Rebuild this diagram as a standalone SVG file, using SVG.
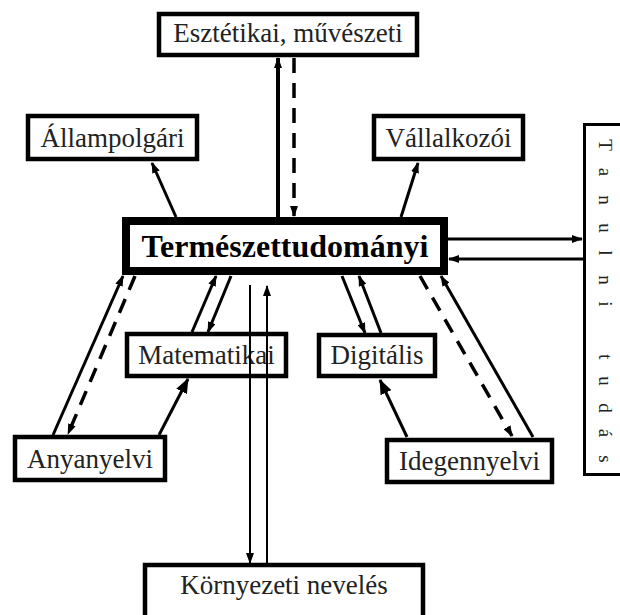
<svg xmlns="http://www.w3.org/2000/svg" width="620" height="615" viewBox="0 0 620 615">
<style>
.box{fill:#fff;stroke:#000;stroke-width:4.5}
.main{fill:#fff;stroke:#000;stroke-width:8}
.tb{fill:#fff;stroke:#000;stroke-width:3}
.t{font-family:"Liberation Serif","Times New Roman",serif;font-size:27px;fill:#222;text-anchor:middle}
.tm{font-family:"Liberation Serif","Times New Roman",serif;font-size:32px;font-weight:bold;fill:#000;text-anchor:middle}
.tv{font-family:"Liberation Serif","Times New Roman",serif;font-size:19px;fill:#222;text-anchor:middle}
.c{stroke:#000;stroke-width:3;fill:none;marker-end:url(#a)}
.cb{stroke:#000;stroke-width:3;fill:none;marker-end:url(#b)}
.cd{stroke:#000;stroke-width:3.5;fill:none;stroke-dasharray:15 10;marker-end:url(#a)}
.ct{stroke:#000;stroke-width:2;fill:none;marker-end:url(#a)}
</style>
<defs>
<marker id="a" viewBox="0 0 11 8" refX="10" refY="4" markerWidth="11" markerHeight="8" markerUnits="userSpaceOnUse" orient="auto"><path d="M0,0 L11,4 L0,8 z" fill="#000"/></marker>
<marker id="b" viewBox="0 0 15 12" refX="14" refY="6" markerWidth="15" markerHeight="12" markerUnits="userSpaceOnUse" orient="auto"><path d="M0,0 L15,6 L0,12 z" fill="#000"/></marker>
</defs>
<rect width="620" height="615" fill="#fff"/>
<g id="n-esztetikai"><rect class="box" x="159" y="14" width="258" height="41"/><text class="t" x="288" y="42">Esztétikai, művészeti</text></g>
<g id="n-allampolgari"><rect class="box" x="28" y="116" width="169" height="43"/><text class="t" x="112.5" y="147">Állampolgári</text></g>
<g id="n-vallalkozoi"><rect class="box" x="374" y="116" width="149" height="43"/><text class="t" x="448.5" y="147">Vállalkozói</text></g>
<g id="n-main"><rect class="main" x="126" y="221" width="318" height="50"/><text class="tm" x="285" y="257">Természettudományi</text></g>
<g id="n-tanulni"><rect class="tb" x="584.5" y="124.5" width="60" height="350"/>
<text class="tv" transform="translate(599,0) rotate(90)"><tspan x="145" y="0">T</tspan><tspan x="172" y="0">a</tspan><tspan x="200" y="0">n</tspan><tspan x="228" y="0">u</tspan><tspan x="253" y="0">l</tspan><tspan x="280" y="0">n</tspan><tspan x="304" y="0">i</tspan><tspan x="357" y="0">t</tspan><tspan x="381" y="0">u</tspan><tspan x="408" y="0">d</tspan><tspan x="433" y="0">á</tspan><tspan x="459" y="0">s</tspan></text></g>
<g id="n-matematikai"><rect class="box" x="127" y="334" width="159" height="42"/><text class="t" x="206.5" y="364">Matematikai</text></g>
<g id="n-digitalis"><rect class="box" x="319" y="335" width="116" height="41"/><text class="t" x="377" y="364">Digitális</text></g>
<g id="n-anyanyelvi"><rect class="box" x="15" y="437" width="150" height="43"/><text class="t" x="90" y="468">Anyanyelvi</text></g>
<g id="n-idegennyelvi"><rect class="box" x="387" y="440" width="165" height="42"/><text class="t" x="469.5" y="470">Idegennyelvi</text></g>
<g id="n-kornyezeti"><rect class="box" x="145" y="565" width="278" height="70"/><text class="t" x="284" y="594">Környezeti nevelés</text></g>
<g id="connectors">
<line class="c" x1="278" y1="217" x2="278" y2="58" style="stroke-width:4"/>
<line class="cd" x1="294" y1="58" x2="294" y2="216"/>
<line class="c" x1="176" y1="217" x2="152" y2="163"/>
<line class="c" x1="401" y1="217" x2="418" y2="163"/>
<line class="c" x1="448" y1="239" x2="582" y2="239"/>
<line class="c" x1="583" y1="259" x2="449" y2="259"/>
<line class="c" x1="53" y1="435" x2="123" y2="276"/>
<line class="cd" x1="135" y1="276" x2="68" y2="434"/>
<line class="cb" x1="159" y1="435" x2="188" y2="379"/>
<line class="c" x1="192" y1="332" x2="216" y2="276"/>
<line class="c" x1="231" y1="276" x2="208" y2="332"/>
<line class="ct" x1="250" y1="285" x2="250" y2="563"/>
<line class="ct" x1="267" y1="563" x2="267" y2="286"/>
<line class="c" x1="342" y1="276" x2="365" y2="333"/>
<line class="c" x1="381" y1="333" x2="359" y2="276"/>
<line class="cb" x1="407" y1="437" x2="380" y2="380"/>
<line class="cd" x1="420" y1="276" x2="512" y2="436"/>
<line class="c" x1="533" y1="437" x2="441" y2="276"/>
</g>
</svg>
